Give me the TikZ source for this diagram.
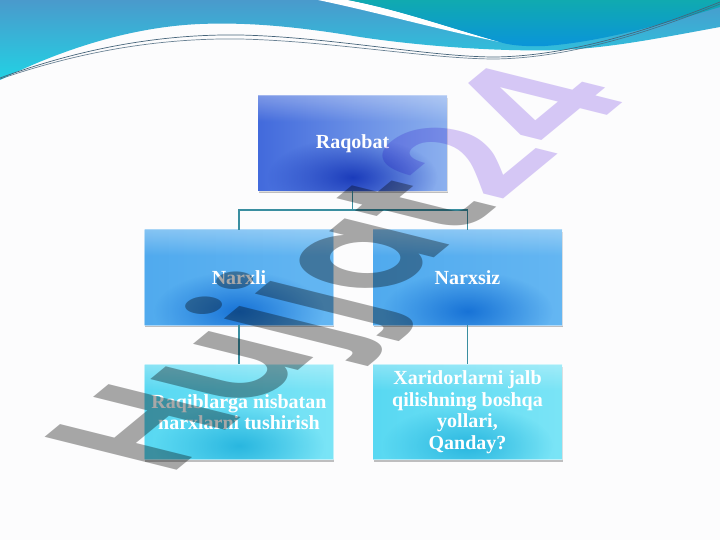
\documentclass[tikz,border=0pt]{standalone}
\usepackage{fontspec}
\setmainfont{Liberation Serif}
\IfFontExistsTF{Poppins SemiBold}
  {\newfontfamily\wmfont{Poppins SemiBold}\newcommand\wmweight{}}
  {\newfontfamily\wmfont{Poppins}\newcommand\wmweight{\bfseries}}
\usetikzlibrary{fadings,shadows}
\definecolor{bgc}{RGB}{252,252,253}
\definecolor{topA}{RGB}{74,154,204}
\definecolor{botA}{RGB}{34,210,228}
\definecolor{topB}{RGB}{16,170,176}
\definecolor{botB}{RGB}{10,148,218}
\definecolor{wlinec}{RGB}{70,100,122}
\definecolor{connc}{RGB}{58,142,160}
\definecolor{aL}{RGB}{66,106,220}
\definecolor{aM}{RGB}{34,74,206}
\definecolor{aR}{RGB}{140,176,238}
\definecolor{aD}{RGB}{14,46,180}
\definecolor{bL}{RGB}{80,170,238}
\definecolor{bM}{RGB}{34,142,230}
\definecolor{bR}{RGB}{100,182,242}
\definecolor{bD}{RGB}{12,104,210}
\definecolor{cL}{RGB}{88,216,242}
\definecolor{cM}{RGB}{48,202,232}
\definecolor{cR}{RGB}{122,228,246}
\definecolor{cD}{RGB}{30,176,220}
\definecolor{wmgray}{RGB}{168,168,168}
\definecolor{wmlav}{RGB}{216,202,247}
\tikzfading[name=spotfade, inner color=transparent!0, outer color=transparent!100]
\tikzset{
  box/.style={minimum width=189pt, minimum height=95pt, inner sep=4pt,
    drop shadow={shadow xshift=0.6pt, shadow yshift=-2pt, opacity=0.35, fill=black!70}},
  lvone/.style={box, left color=aL, middle color=aM, right color=aR},
  lvtwo/.style={box, left color=bL, middle color=bM, right color=bR},
  lvthree/.style={box, left color=cL, middle color=cM, right color=cR},
  boxtext/.style={text=white, font=\fontsize{20}{21.5}\selectfont\bfseries, align=center},
  conn/.style={draw=connc, line width=1.6pt},
  wline/.style={draw=wlinec, line width=0.7pt}
}
% darker spot at the bottom centre, a light glow at the top, a light frame
\newcommand\boxfx[2]{%
  \begin{scope}
    \clip (#1.north west) rectangle (#1.south east);
    \fill[#2, opacity=0.85, path fading=spotfade] ([yshift=14pt]#1.south) ellipse (85 and 40);
  \end{scope}
  \fill[white, opacity=0.3, path fading=south] (#1.north west) rectangle ([yshift=-26pt]#1.north east);
  \draw[white, opacity=0.5, line width=0.8pt] (#1.north west) rectangle (#1.south east);
}
\begin{document}
\begin{tikzpicture}[x=1pt,y=-1pt]
\useasboundingbox (0,0) rectangle (720,540);
\fill[bgc] (0,0) rectangle (720,540);
% top wave, left shape
\shade[top color=topA, bottom color=botA] (0,0) -- (720,0) -- (720,27)
  .. controls (660,38) and (610,48) .. (560,50)
  .. controls (500,52) and (420,46) .. (360,37)
  .. controls (300,27) and (250,22) .. (200,24)
  .. controls (130,27) and (60,50) .. (0,80) -- cycle;
% white ribbon
\fill[white] (318,0) -- (348,0) .. controls (400,10) and (450,28) .. (500,42)
  .. controls (440,30) and (380,13) .. (318,0) -- cycle;
% top wave, right shape
\shade[top color=topB, bottom color=botB] (348,0) -- (720,0) -- (720,7)
  .. controls (660,25) and (600,42) .. (545,46)
  .. controls (520,47) and (505,44) .. (500,42)
  .. controls (450,28) and (400,10) .. (348,0) -- cycle;
% thin lines
\draw[wline] (0,78) .. controls (90,45) and (170,34) .. (240,35)
  .. controls (330,37) and (430,57) .. (495,57)
  .. controls (570,56) and (650,30) .. (720,2);
\draw[wline, opacity=0.8] (0,79) .. controls (90,48) and (170,38) .. (240,39)
  .. controls (330,41) and (430,59) .. (495,59)
  .. controls (570,58) and (650,32) .. (720,4);
% boxes (background)
\node[lvone] (R) at (352.5,143.5) {};
\node[lvtwo] (N1) at (239,277.5) {};
\node[lvtwo] (N2) at (467.5,277.5) {};
\node[lvthree] (B1) at (239,412) {};
\node[lvthree] (B2) at (467.5,412) {};
\boxfx{R}{aD}\boxfx{N1}{bD}\boxfx{N2}{bD}\boxfx{B1}{cD}\boxfx{B2}{cD}
% box texts
\node[boxtext] (tR) at (R.center) {Raqobat};
\node[boxtext] (tN1) at (N1.center) {Narxli};
\node[boxtext] (tN2) at (N2.center) {Narxsiz};
\node[boxtext] (tB1) at (B1.center) {Raqiblarga nisbatan\\narxlarni tushirish};
\node[boxtext] (tB2) at (B2.center) {Xaridorlarni jalb\\qilishning boshqa\\yollari,\\Qanday?};
% connectors
\draw[conn] (R.south) -- ++(0,19) -| (N1.north);
\draw[conn] (R.south) -- ++(0,19) -| (N2.north);
\draw[conn] (N1.south) -- (B1.north);
\draw[conn] (N2.south) -- (B2.north);
% watermark
\begin{scope}[cm={1.104,0.910,-1.892,0.472,(169,477)}, blend mode=multiply]
\node[transform shape, anchor=base west, inner sep=0pt,
  font=\wmfont\wmweight\fontsize{100}{100}\selectfont] (wm) at (0,0)
  {\textcolor{wmgray}{Hujjat}\textcolor{wmlav}{24}};
\end{scope}
\end{tikzpicture}
\end{document}
